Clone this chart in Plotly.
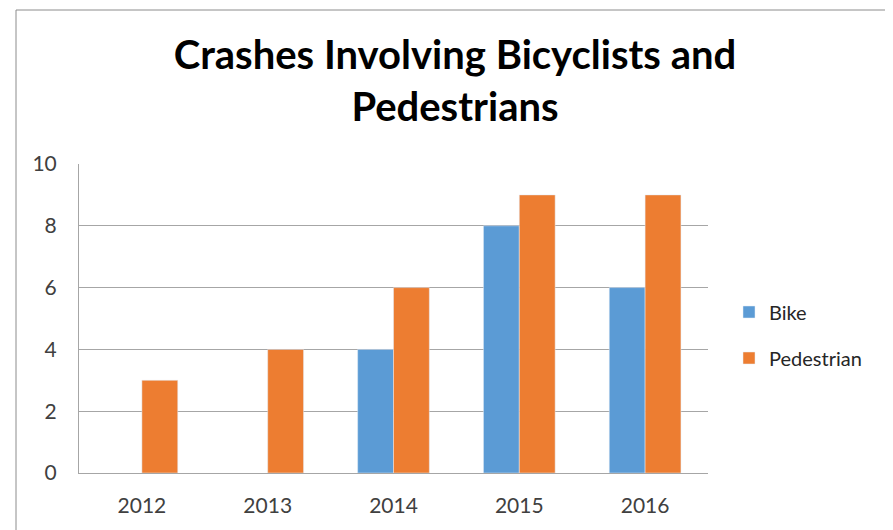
import plotly.graph_objects as go

years = ["2012", "2013", "2014", "2015", "2016"]
bike = [None, None, 4, 8, 6]
pedestrian = [3, 4, 6, 9, 9]

OFF = 8  # page body margin offset
W, H = 893 - OFF, 530 - OFF
L, T = 79 - OFF, 164 - OFF
PR, PB = 708 - OFF, 473 - OFF
R, B = W - PR, H - PB
pw, ph = PR - L, PB - T

fig = go.Figure()
fig.add_trace(go.Bar(x=years, y=bike, name="Bike", marker_color="#5B9BD5", legendgroup="a"))
fig.add_trace(go.Bar(x=years, y=pedestrian, name="Pedestrian", marker_color="#ED7D31", legendgroup="b"))

def px_x(p):
    return (p - OFF - L) / pw

def px_y(p):
    return (PB - (p - OFF)) / ph

fig.add_shape(type="line", xref="paper", yref="paper", x0=px_x(16), x1=px_x(16), y0=px_y(10), y1=px_y(560),
              line=dict(color="#8c8c8c", width=1))
fig.add_shape(type="line", xref="paper", yref="paper", x0=px_x(16), x1=px_x(910), y0=px_y(10), y1=px_y(10),
              line=dict(color="#8c8c8c", width=1))

fig.update_layout(
    width=W, height=H,
    margin=dict(l=L, r=R, t=T, b=B, autoexpand=False),
    paper_bgcolor="white", plot_bgcolor="white",
    font=dict(family="Lato, Open Sans, sans-serif", color="#404040", size=21),
    title=dict(text="Crashes Involving Bicyclists and<br>Pedestrians", x=(455 - OFF) / W, xanchor="center",
               y=1 - (69 - OFF) / H, yanchor="middle",
               font=dict(family="Lato, sans-serif", size=40, color="black", weight="bold")),
    barmode="group", bargap=0.43, bargroupgap=0,
    showlegend=True,
    legend=dict(x=px_x(729), xanchor="left", y=px_y(335), yanchor="middle",
                font=dict(size=20, color="#262626"), tracegroupgap=17, itemwidth=30,
                traceorder="grouped"),
    xaxis=dict(showgrid=False, showline=True, linecolor="#a6a6a6", linewidth=1, ticks="",
               ticklabelstandoff=14, tickfont=dict(size=21, color="#404040")),
    yaxis=dict(range=[0, 10], dtick=2, showgrid=True, gridcolor="#a6a6a6", gridwidth=1,
               showline=True, linecolor="#a6a6a6", zeroline=False, ticks="", ticklabelstandoff=17,
               tickfont=dict(size=21, color="#404040")),
)

fig.write_html("out.html")
